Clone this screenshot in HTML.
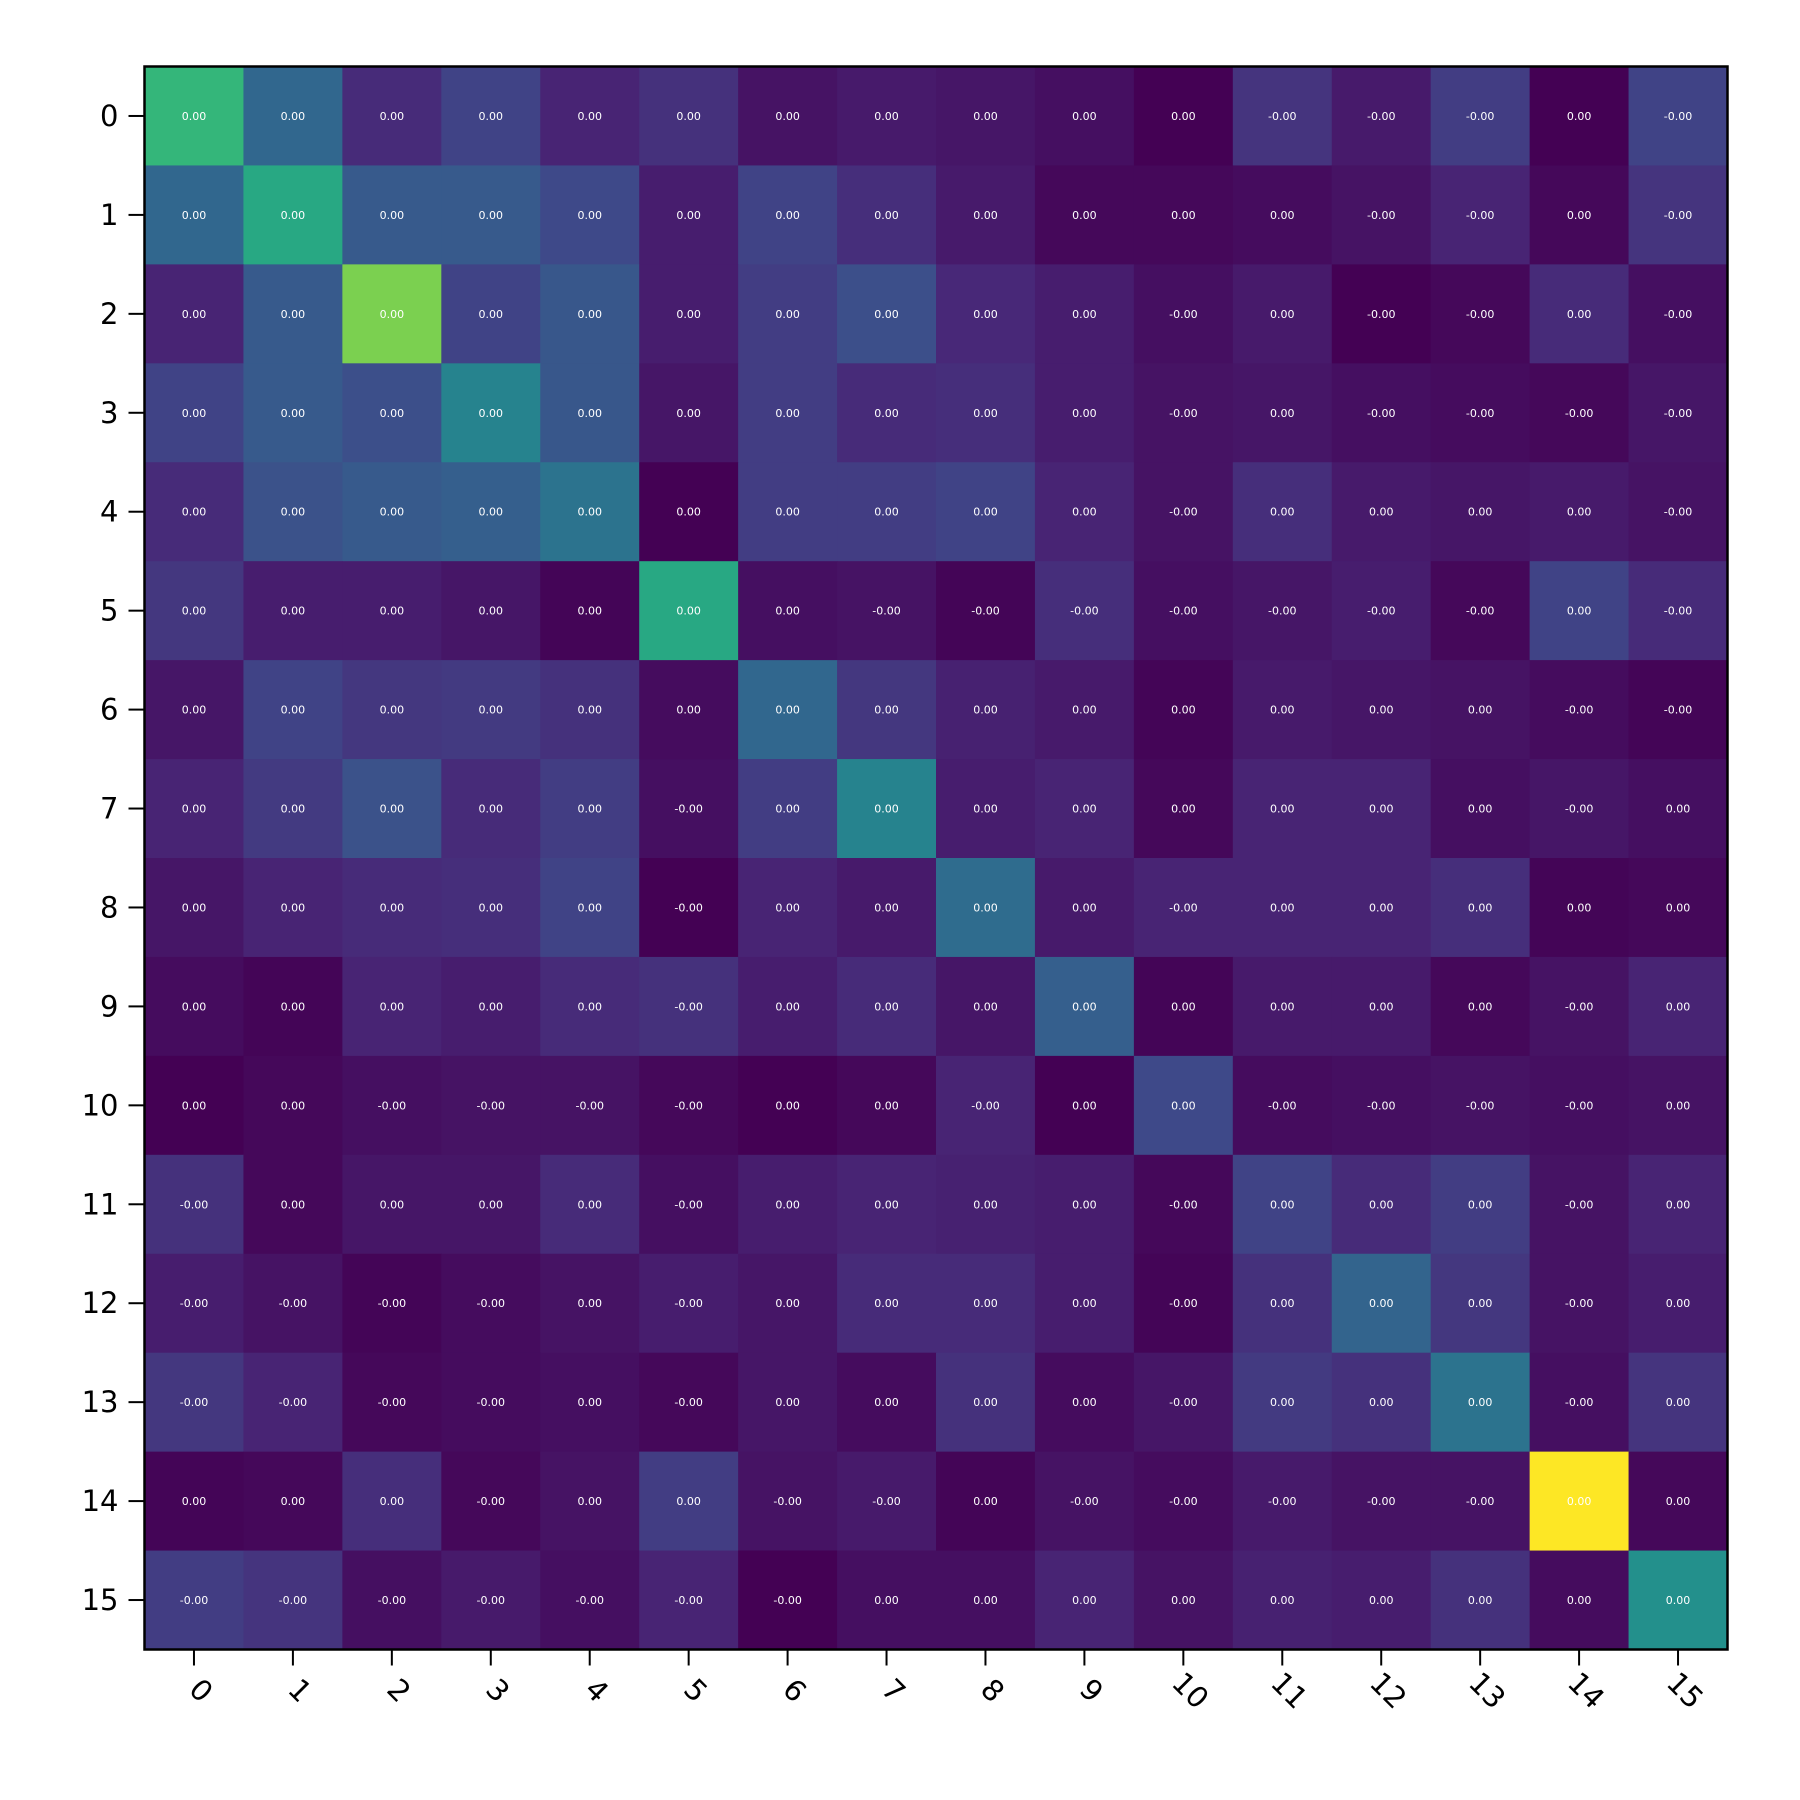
<!DOCTYPE html>
<html><head><meta charset="utf-8"><style>
html,body{margin:0;padding:0;background:#fff;}
svg{display:block;font-family:"DejaVu Sans","Liberation Sans",sans-serif;}
</style></head>
<body>
<svg id="chart" width="1800" height="1800" viewBox="0 0 1800 1800" xmlns="http://www.w3.org/2000/svg">
<rect x="0" y="0" width="1800" height="1800" fill="#fff"/>
<g id="cells"></g>
<g id="axes"></g>
</svg>
<script>
const rowLabels = ["0","1","2","3","4","5","6","7","8","9","10","11","12","13","14","15"];
const colLabels = ["0","1","2","3","4","5","6","7","8","9","10","11","12","13","14","15"];
const values = [
[0.66,0.33,0.12,0.2,0.1,0.14,0.05,0.07,0.06,0.04,0.0,0.15,0.07,0.18,0.0,0.2],
[0.33,0.6,0.28,0.28,0.22,0.08,0.2,0.13,0.07,0.02,0.02,0.03,0.05,0.1,0.02,0.15],
[0.1,0.28,0.8,0.2,0.27,0.08,0.18,0.24,0.11,0.08,0.04,0.07,0.0,0.02,0.12,0.04],
[0.2,0.28,0.24,0.45,0.27,0.06,0.18,0.12,0.13,0.08,0.05,0.06,0.04,0.03,0.02,0.06],
[0.12,0.25,0.28,0.3,0.38,0.0,0.18,0.18,0.2,0.1,0.05,0.13,0.07,0.06,0.07,0.05],
[0.16,0.08,0.08,0.06,0.01,0.6,0.04,0.05,0.01,0.13,0.04,0.06,0.08,0.02,0.2,0.12],
[0.06,0.2,0.16,0.17,0.14,0.03,0.33,0.16,0.09,0.07,0.01,0.07,0.06,0.05,0.03,0.01],
[0.1,0.17,0.25,0.12,0.18,0.04,0.18,0.45,0.08,0.1,0.02,0.1,0.1,0.04,0.06,0.04],
[0.06,0.1,0.12,0.13,0.2,0.0,0.1,0.07,0.35,0.07,0.1,0.1,0.1,0.13,0.01,0.02],
[0.03,0.01,0.1,0.08,0.12,0.14,0.08,0.12,0.06,0.3,0.01,0.07,0.07,0.02,0.05,0.1],
[0.0,0.02,0.04,0.05,0.05,0.02,0.0,0.02,0.1,0.0,0.22,0.03,0.04,0.05,0.04,0.05],
[0.14,0.02,0.06,0.06,0.12,0.04,0.08,0.1,0.09,0.08,0.02,0.2,0.12,0.18,0.05,0.1],
[0.08,0.05,0.01,0.03,0.05,0.08,0.06,0.12,0.12,0.08,0.01,0.14,0.32,0.16,0.05,0.08],
[0.16,0.1,0.02,0.03,0.04,0.02,0.06,0.03,0.14,0.03,0.06,0.17,0.14,0.38,0.04,0.15],
[0.01,0.02,0.13,0.02,0.05,0.18,0.05,0.07,0.01,0.05,0.03,0.07,0.05,0.05,1.0,0.02],
[0.18,0.15,0.04,0.07,0.04,0.1,0.0,0.04,0.04,0.1,0.05,0.09,0.08,0.14,0.03,0.5]
];
const negativeCells = [
[11,12,13,15],[12,13,15],[10,12,13,15],[10,12,13,14,15],[10,15],
[7,8,9,10,11,12,13,15],[14,15],[5,14],[5,10],[5,14],
[2,3,4,5,8,11,12,13,14],[0,5,10,14],[0,1,2,3,5,10,14],[0,1,2,3,5,10,14],
[3,6,7,9,10,11,12,13],[0,1,2,3,4,5,6]
];
const viridisStops = [[68,1,84],[72,40,120],[62,74,137],[49,104,142],[38,130,142],[31,158,137],[53,183,121],[109,205,89],[180,222,44],[253,231,37]];
function viridis(t){t=Math.max(0,Math.min(1,t));const p=t*(viridisStops.length-1);const i=Math.min(Math.floor(p),viridisStops.length-2);const f=p-i;const a=viridisStops[i],b=viridisStops[i+1];return `rgb(${Math.round(a[0]+(b[0]-a[0])*f)},${Math.round(a[1]+(b[1]-a[1])*f)},${Math.round(a[2]+(b[2]-a[2])*f)})`;}
const L=144.5,T=66.5,R=1727.5,B=1649.5;
const n=rowLabels.length;
const cw=(R-L)/colLabels.length, ch=(B-T)/n;
const xPos=j=>L+j*cw, yPos=i=>T+i*ch;
const NS="http://www.w3.org/2000/svg";
const cells=document.getElementById('cells'), axes=document.getElementById('axes');
function mk(tag,attrs,parent){const e=document.createElementNS(NS,tag);for(const k in attrs)e.setAttribute(k,attrs[k]);parent.appendChild(e);return e;}
for(let i=0;i<n;i++){for(let j=0;j<colLabels.length;j++){
  const r=mk('rect',{x:xPos(j),y:yPos(i),width:cw+0.5,height:ch+0.5,fill:viridis(values[i][j])},cells);
  
  
  const t=mk('text',{x:xPos(j)+cw/2,y:yPos(i)+ch/2+4,'text-anchor':'middle','font-size':'11',fill:'#fff'},cells);
  t.textContent=(negativeCells[i].includes(j)?'-':'')+'0.00';
  
  
}}
const frame=mk('rect',{x:L,y:T,width:R-L,height:B-T,fill:'none',stroke:'#000','stroke-width':2.5},axes);


rowLabels.forEach((lab,i)=>{
  const y=yPos(i)+ch/2;
  const tk=mk('line',{x1:L-16,x2:L,y1:y,y2:y,stroke:'#000','stroke-width':2},axes);
  
  
  const t=mk('text',{x:L-26,y:y+10,'text-anchor':'end','font-size':'29',fill:'#000'},axes);
  t.textContent=lab;
  
  
});
colLabels.forEach((lab,j)=>{
  const x=xPos(j)+cw/2;
  const tk=mk('line',{x1:x,x2:x,y1:B,y2:B+16,stroke:'#000','stroke-width':2},axes);
  
  
  const t=mk('text',{x:0,y:0,'text-anchor':'middle','font-size':'29',fill:'#000',transform:`translate(${x},${B+48}) rotate(45)`},axes);
  t.textContent=lab;
  
  
});
</script>
</body></html>
